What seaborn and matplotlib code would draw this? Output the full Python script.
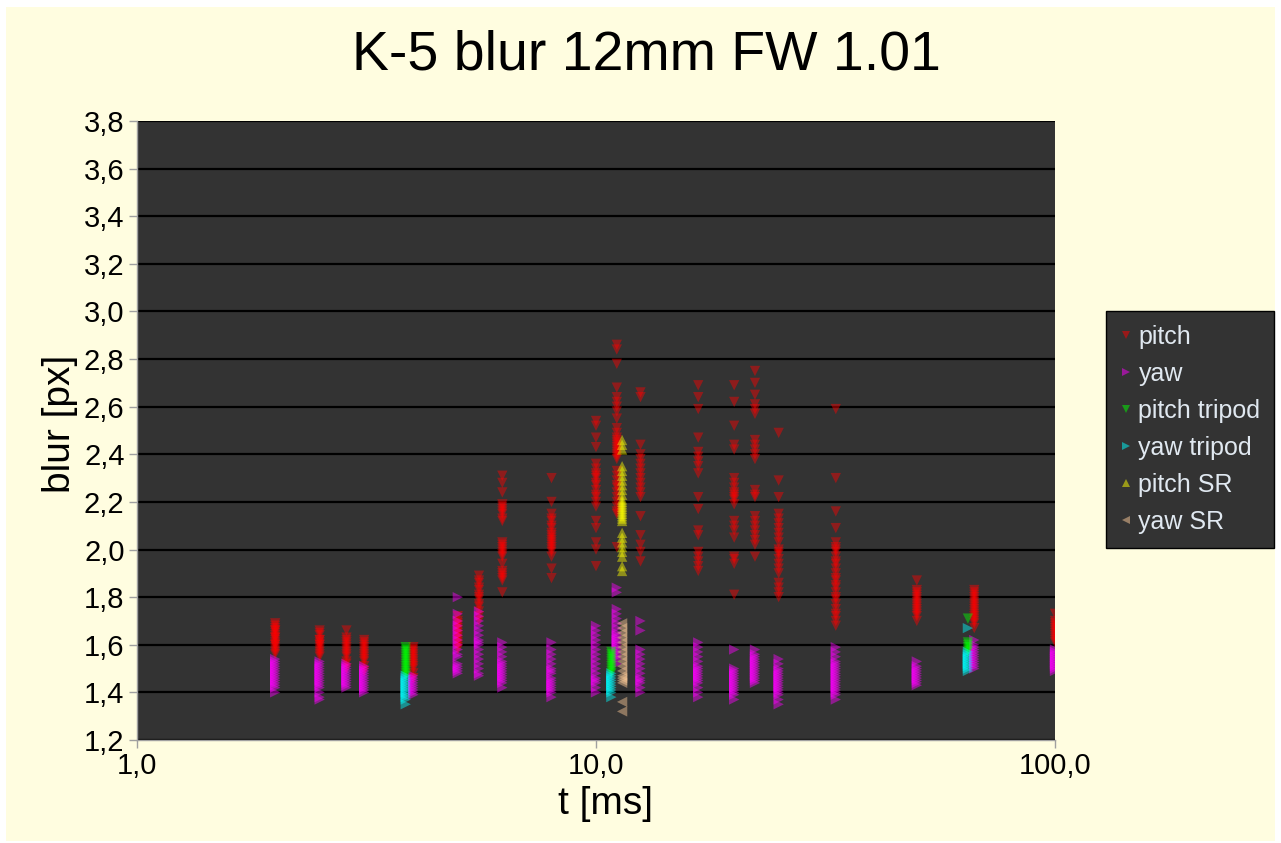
import pandas as pd
import matplotlib
matplotlib.use("Agg")
import matplotlib.pyplot as plt
from matplotlib.lines import Line2D
from matplotlib.patches import Rectangle
from matplotlib.ticker import FixedLocator, FuncFormatter, NullLocator
import seaborn as sns

pitch = {
    2.0: [1.69, 1.68, 1.67, 1.66, 1.65, 1.64, 1.63, 1.62, 1.61, 1.60, 1.59, 1.58, 1.57, 1.56, 1.60, 1.63, 1.66],
    2.5: [1.66, 1.65, 1.64, 1.62, 1.61, 1.60, 1.59, 1.58, 1.57, 1.56, 1.55, 1.60, 1.62],
    2.86: [1.66, 1.63, 1.62, 1.61, 1.60, 1.59, 1.58, 1.57, 1.56, 1.55, 1.53, 1.52, 1.50],
    3.125: [1.62, 1.61, 1.60, 1.59, 1.58, 1.57, 1.56, 1.55, 1.54, 1.53, 1.51, 1.49],
    4.0: [1.59, 1.58, 1.57, 1.56, 1.55, 1.54, 1.53, 1.52, 1.51, 1.50, 1.48, 1.46],
    5.0: [1.72, 1.70, 1.69, 1.68, 1.67, 1.66, 1.65, 1.64, 1.63, 1.62, 1.61, 1.60, 1.59, 1.58],
    5.56: [1.89, 1.87, 1.86, 1.84, 1.83, 1.81, 1.80, 1.79, 1.77, 1.76, 1.74, 1.72, 1.70],
    6.25: [2.31, 2.28, 2.24, 2.19, 2.18, 2.17, 2.16, 2.15, 2.13, 2.12, 2.03, 2.02, 2.01, 2.00,
           1.99, 1.98, 1.97, 1.94, 1.91, 1.90, 1.89, 1.88, 1.87, 1.82],
    8.0: [2.30, 2.20, 2.15, 2.13, 2.12, 2.10, 2.09, 2.07, 2.06, 2.05, 2.04, 2.03, 2.02, 2.01,
          2.00, 1.99, 1.97, 1.92, 1.88],
    10.0: [2.54, 2.52, 2.47, 2.43, 2.36, 2.34, 2.32, 2.31, 2.30, 2.28, 2.27, 2.25, 2.23, 2.22,
           2.20, 2.18, 2.12, 2.09, 2.03, 2.00, 1.93],
    11.1: [2.86, 2.84, 2.78, 2.68, 2.64, 2.62, 2.60, 2.58, 2.55, 2.51, 2.49, 2.47, 2.46, 2.45,
           2.44, 2.43, 2.42, 2.41, 2.40, 2.39, 2.38, 2.33, 2.31, 2.29, 2.27, 2.26, 2.24, 2.22,
           2.20, 2.18, 2.16, 2.15, 2.01],
    12.5: [2.66, 2.64, 2.44, 2.40, 2.38, 2.36, 2.34, 2.32, 2.30, 2.28, 2.26, 2.24, 2.22, 2.14,
           2.06, 2.02, 1.99, 1.95],
    16.7: [2.69, 2.64, 2.59, 2.47, 2.41, 2.39, 2.37, 2.35, 2.32, 2.22, 2.17, 2.08, 2.06, 1.99,
           1.97, 1.95, 1.93, 1.91],
    20.0: [2.69, 2.62, 2.52, 2.44, 2.42, 2.30, 2.28, 2.26, 2.24, 2.23, 2.22, 2.21, 2.19, 2.12,
           2.10, 2.08, 2.05, 1.97, 1.96, 1.94, 1.81],
    22.2: [2.75, 2.70, 2.65, 2.61, 2.59, 2.57, 2.46, 2.44, 2.42, 2.40, 2.38, 2.25, 2.23, 2.22,
           2.14, 2.12, 2.10, 2.08, 2.06, 2.04, 2.02, 1.97],
    25.0: [2.49, 2.29, 2.22, 2.15, 2.13, 2.11, 2.09, 2.07, 2.05, 2.03, 2.00, 1.99, 1.98, 1.96,
           1.94, 1.92, 1.90, 1.86, 1.84, 1.82, 1.80],
    33.3: [2.59, 2.30, 2.16, 2.09, 2.03, 2.01, 2.00, 1.99, 1.97, 1.95, 1.94, 1.92, 1.90, 1.88,
           1.87, 1.85, 1.84, 1.82, 1.80, 1.79, 1.77, 1.75, 1.73, 1.72, 1.70, 1.68],
    50.0: [1.87, 1.83, 1.82, 1.81, 1.80, 1.79, 1.78, 1.77, 1.76, 1.75, 1.74, 1.73, 1.72, 1.70],
    66.7: [1.83, 1.82, 1.81, 1.80, 1.79, 1.78, 1.77, 1.76, 1.75, 1.74, 1.73, 1.72, 1.71, 1.70,
           1.69, 1.67],
    100.0: [1.73, 1.70, 1.69, 1.68, 1.67, 1.66, 1.65, 1.64, 1.63, 1.62, 1.61],
}

yaw = {
    2.0: [1.54, 1.53, 1.52, 1.51, 1.50, 1.49, 1.48, 1.47, 1.46, 1.45, 1.44, 1.43, 1.42, 1.40],
    2.5: [1.53, 1.52, 1.51, 1.50, 1.49, 1.48, 1.47, 1.46, 1.45, 1.44, 1.43, 1.42, 1.40, 1.38, 1.37],
    2.86: [1.52, 1.51, 1.50, 1.49, 1.48, 1.47, 1.46, 1.45, 1.44, 1.43, 1.42],
    3.125: [1.51, 1.50, 1.49, 1.48, 1.47, 1.46, 1.45, 1.44, 1.43, 1.42, 1.41, 1.40],
    4.0: [1.47, 1.46, 1.45, 1.44, 1.43, 1.42, 1.41, 1.40, 1.39],
    5.0: [1.80, 1.73, 1.70, 1.68, 1.66, 1.64, 1.62, 1.60, 1.58, 1.56, 1.55, 1.52, 1.51, 1.50,
          1.49, 1.48],
    5.56: [1.74, 1.72, 1.70, 1.68, 1.66, 1.64, 1.62, 1.61, 1.60, 1.58, 1.56, 1.54, 1.52, 1.50,
           1.48, 1.47],
    6.25: [1.61, 1.59, 1.57, 1.55, 1.53, 1.52, 1.51, 1.50, 1.49, 1.48, 1.47, 1.46, 1.45, 1.44, 1.42],
    8.0: [1.61, 1.58, 1.56, 1.54, 1.52, 1.50, 1.49, 1.48, 1.46, 1.45, 1.44, 1.43, 1.42, 1.41,
          1.40, 1.38],
    10.0: [1.68, 1.66, 1.64, 1.62, 1.60, 1.58, 1.56, 1.54, 1.52, 1.50, 1.48, 1.46, 1.45, 1.44,
           1.42, 1.40],
    11.1: [1.84, 1.82, 1.75, 1.73, 1.71, 1.69, 1.67, 1.65, 1.64, 1.63, 1.62, 1.61, 1.60, 1.59,
           1.58, 1.57, 1.56, 1.55, 1.54, 1.52],
    12.5: [1.70, 1.66, 1.58, 1.56, 1.54, 1.52, 1.50, 1.48, 1.46, 1.45, 1.44, 1.42, 1.40],
    16.7: [1.61, 1.59, 1.57, 1.55, 1.53, 1.51, 1.50, 1.49, 1.48, 1.47, 1.46, 1.45, 1.44, 1.42,
           1.40, 1.38],
    20.0: [1.58, 1.50, 1.49, 1.48, 1.47, 1.46, 1.45, 1.44, 1.43, 1.42, 1.41, 1.40, 1.39, 1.37],
    22.2: [1.58, 1.56, 1.55, 1.54, 1.53, 1.52, 1.51, 1.50, 1.49, 1.48, 1.47, 1.46, 1.45, 1.44],
    25.0: [1.54, 1.52, 1.50, 1.49, 1.48, 1.47, 1.46, 1.45, 1.44, 1.43, 1.42, 1.41, 1.40, 1.39,
           1.37, 1.35],
    33.3: [1.59, 1.57, 1.55, 1.53, 1.52, 1.51, 1.50, 1.49, 1.48, 1.47, 1.46, 1.45, 1.44, 1.43,
           1.42, 1.41, 1.40, 1.39, 1.37],
    50.0: [1.53, 1.51, 1.50, 1.49, 1.48, 1.47, 1.46, 1.45, 1.44, 1.43],
    66.7: [1.62, 1.60, 1.59, 1.58, 1.57, 1.56, 1.55, 1.54, 1.53, 1.52, 1.51, 1.50],
    100.0: [1.58, 1.57, 1.56, 1.55, 1.54, 1.53, 1.52, 1.51, 1.50, 1.49],
}

pitch_tripod = {
    3.85: [1.59, 1.58, 1.57, 1.56, 1.55, 1.54, 1.53, 1.52, 1.51, 1.50, 1.49, 1.48, 1.47],
    10.8: [1.57, 1.56, 1.55, 1.54, 1.53, 1.52, 1.51, 1.50, 1.49, 1.48],
    64.6: [1.71, 1.61, 1.60, 1.59, 1.58, 1.57],
}

yaw_tripod = {
    3.85: [1.47, 1.46, 1.45, 1.44, 1.43, 1.42, 1.41, 1.40, 1.39, 1.38, 1.37, 1.35],
    10.8: [1.48, 1.47, 1.46, 1.45, 1.44, 1.43, 1.42, 1.41, 1.40, 1.38],
    64.6: [1.67, 1.57, 1.56, 1.55, 1.54, 1.53, 1.52, 1.51, 1.50, 1.49],
}

pitch_sr = {
    11.4: [2.46, 2.44, 2.42, 2.35, 2.33, 2.31, 2.29, 2.27, 2.25, 2.23, 2.21, 2.20, 2.19, 2.18,
           2.17, 2.16, 2.15, 2.14, 2.13, 2.12, 2.07, 2.05, 2.03, 2.01, 1.99, 1.97, 1.93, 1.91],
}

yaw_sr = {
    11.4: [1.69, 1.67, 1.65, 1.63, 1.61, 1.59, 1.57, 1.55, 1.53, 1.51, 1.49, 1.47, 1.46, 1.45,
           1.44, 1.36, 1.32],
}

series_names = ["pitch", "yaw", "pitch tripod", "yaw tripod", "pitch SR", "yaw SR"]
series_data = [pitch, yaw, pitch_tripod, yaw_tripod, pitch_sr, yaw_sr]
colors = ["#ff0000", "#ff00ff", "#00ff00", "#00ffff", "#ffff00", "#ffcc99"]
markers = ["v", ">", "v", ">", "^", "<"]

# long table for seaborn
rows = []
for name, d in zip(series_names, series_data):
    for t, vals in d.items():
        for v in vals:
            rows.append({"series": name, "t": t, "blur": v})
df = pd.DataFrame(rows)

sns.set_theme(style="white")
plt.rcParams["font.family"] = ["Liberation Sans", "DejaVu Sans"]
plt.rcParams["text.color"] = "black"
plt.rcParams["axes.labelcolor"] = "black"

fig = plt.figure(figsize=(12.81, 8.43), dpi=100, facecolor="white")
# pale yellow chart area inside a thin white frame
fig.patches.append(Rectangle((6 / 1281, 2 / 843), 1 - 12 / 1281, 1 - 9 / 843,
                             transform=fig.transFigure, facecolor="#fffde0",
                             edgecolor="none", zorder=-10))

ax = fig.add_axes([137 / 1281, 1 - 740 / 843, (1055 - 137) / 1281, (740 - 121) / 843])
ax.set_facecolor("#333333")

sns.scatterplot(data=df, x="t", y="blur", hue="series", style="series",
                palette=dict(zip(series_names, colors)),
                markers=dict(zip(series_names, markers)),
                hue_order=series_names, style_order=series_names,
                s=55, alpha=0.45, linewidth=0, legend=False, ax=ax, zorder=3)

ax.set_xscale("log")
ax.set_xlim(1, 100)
ax.set_ylim(1.2, 3.8)
ax.xaxis.set_major_locator(FixedLocator([1, 10, 100]))
ax.xaxis.set_minor_locator(NullLocator())
ax.yaxis.set_major_locator(FixedLocator([1.2 + 0.2 * i for i in range(14)]))
ax.xaxis.set_major_formatter(FuncFormatter(lambda v, p: f"{v:.1f}".replace(".", ",")))
ax.yaxis.set_major_formatter(FuncFormatter(lambda v, p: f"{v:.1f}".replace(".", ",")))

ax.yaxis.grid(True, color="black", linewidth=1.6, zorder=1)
ax.xaxis.grid(False)
ax.set_axisbelow(True)
for side in ["top", "right"]:
    ax.spines[side].set_visible(False)
for side in ["left", "bottom"]:
    ax.spines[side].set_color("#a0a0a0")
    ax.spines[side].set_linewidth(1)

ax.tick_params(axis="both", direction="out", length=6, width=1, color="#a0a0a0",
               labelsize=21, labelcolor="black", left=True, bottom=True, pad=3)

ax.set_xlabel("t [ms]", fontsize=28)
ax.set_ylabel("blur [px]", fontsize=28)
ax.xaxis.set_label_coords(0.51, -0.075)
ax.yaxis.set_label_coords(-0.064, 0.51)
fig.text(646 / 1281, 1 - 55 / 843, "K-5 blur 12mm FW 1.01", fontsize=40,
         ha="center", va="center", color="black")

handles = [Line2D([], [], linestyle="none", marker=m, color=c, alpha=0.5,
                  markersize=6, markeredgewidth=0)
           for m, c in zip(markers, colors)]
leg = ax.legend(handles, series_names, loc="upper left",
                bbox_to_anchor=(1106 / 1281, 1 - 311 / 843),
                bbox_transform=fig.transFigure, fontsize=18, frameon=True,
                fancybox=False, framealpha=1, facecolor="#333333",
                edgecolor="black", labelcolor="#e0e8f0", handlelength=0.5,
                handletextpad=0.25, labelspacing=0.52, borderpad=0.55,
                borderaxespad=0)

fig.savefig("out.png", dpi=100, facecolor=fig.get_facecolor())
